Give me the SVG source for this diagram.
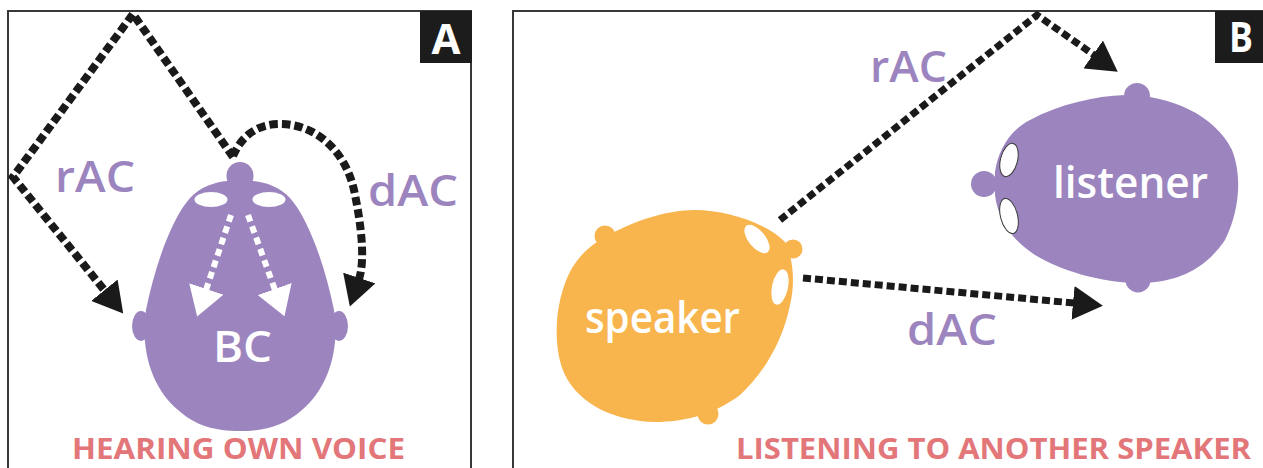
<svg xmlns="http://www.w3.org/2000/svg" width="1263" height="468" viewBox="0 0 1263 468">
  <style>
    .frame { fill: none; stroke: #383838; stroke-width: 2; }
    .tag { fill: #1c1c1c; }
    .tagtxt { fill: #ffffff; font-family: "Open Sans", "Liberation Sans", sans-serif; font-weight: 700; font-size: 42px; text-anchor: middle; }
    .lbl { fill: #9c85bf; font-family: "Open Sans", "Liberation Sans", sans-serif; font-weight: 600; font-size: 44px; }
    .inlbl { fill: #ffffff; font-family: "Open Sans", "Liberation Sans", sans-serif; font-weight: 600; font-size: 44px; }
    .cap { fill: #e27679; font-family: "Open Sans", "Liberation Sans", sans-serif; font-weight: 700; font-size: 29px; }
    .purple { fill: #9c85bf; }
    .orange { fill: #f8b54e; }
    .eye { fill: #ffffff; }
    .eye-o { fill: #ffffff; stroke: #3a3a3a; stroke-width: 1; }
    .dash { fill: none; stroke: #1a1a1a; stroke-width: 8; stroke-dasharray: 8.5 4; marker-end: url(#headBlack); }
    .dashB { fill: none; stroke: #1a1a1a; stroke-width: 7; stroke-dasharray: 8 4; marker-end: url(#headBlack); }
    .wdash { fill: none; stroke: #ffffff; stroke-width: 6; stroke-dasharray: 7 5; marker-end: url(#headWhite); }
  </style>
  <defs>
    <marker id="headBlack" markerUnits="userSpaceOnUse" viewBox="0 0 30 34" refX="1" refY="17" markerWidth="30" markerHeight="34" orient="auto">
      <path d="M0,0 L30,17 L0,34 Z" fill="#1a1a1a"/>
    </marker>
    <marker id="headWhite" markerUnits="userSpaceOnUse" viewBox="0 0 29 36" refX="1" refY="18" markerWidth="29" markerHeight="36" orient="auto">
      <path d="M0,0 L29,18 L0,36 Z" fill="#ffffff"/>
    </marker>
  </defs>

  <rect width="1263" height="468" fill="#ffffff"/>

  <!-- panel frames and letters -->
  <g id="panel-a">
    <rect class="frame" x="8" y="11" width="463" height="470"/>
    <rect class="tag" x="420" y="11" width="52" height="52"/>
    <text class="tagtxt" x="446" y="54">A</text>
    <text class="cap" x="72" y="459" textLength="333" lengthAdjust="spacingAndGlyphs">HEARING OWN VOICE</text>
  </g>
  <g id="panel-b">
    <rect class="frame" x="513" y="11" width="760" height="470"/>
    <rect class="tag" x="1215" y="11" width="50" height="52"/>
    <text class="tagtxt" x="1241" y="52" textLength="24" lengthAdjust="spacingAndGlyphs">B</text>
    <text class="cap" x="736" y="459" textLength="515" lengthAdjust="spacingAndGlyphs">LISTENING TO ANOTHER SPEAKER</text>
  </g>

  <!-- own head, seen from above -->
  <g id="head-own">
    <ellipse class="purple" cx="240" cy="176" rx="13.5" ry="14"/>
    <ellipse class="purple" cx="141" cy="326" rx="9" ry="15"/>
    <ellipse class="purple" cx="339" cy="326" rx="9" ry="15"/>
    <path class="purple" d="M227 181 C215 182 200 187 190 198 C172 218 155 265 146 310 C140 350 152 388 178 410 C196 426 215 431 240 431 C265 431 284 426 302 410 C328 388 340 350 334 310 C325 265 308 218 290 198 C280 187 265 182 253 181 Z"/>
    <ellipse class="eye" cx="211" cy="199.5" rx="16.5" ry="7.5"/>
    <ellipse class="eye" cx="269" cy="199.5" rx="16.5" ry="7.5"/>
    <text class="inlbl" x="213" y="362" textLength="59" lengthAdjust="spacingAndGlyphs">BC</text>
  </g>

  <!-- speaker head -->
  <g id="speaker">
    <circle class="orange" cx="605" cy="236" r="10.5"/>
    <circle class="orange" cx="708" cy="414" r="10.5"/>
    <circle class="orange" cx="793" cy="249" r="9.5"/>
    <path class="orange" d="M600 240 C630 222 665 210 695 210 C725 210 765 222 785 242 C794 260 795 285 790 305 C783 340 765 372 740 395 C715 414 685 422 655 422 C615 421 580 405 565 375 C552 348 554 300 572 268 C580 255 590 246 600 240 Z"/>
    <ellipse class="eye" cx="757" cy="239" rx="8.5" ry="17" transform="rotate(-39 757 239)"/>
    <ellipse class="eye" cx="780" cy="287" rx="8" ry="18" transform="rotate(12 780 287)"/>
    <text class="inlbl" x="585" y="333" textLength="155" lengthAdjust="spacingAndGlyphs">speaker</text>
  </g>

  <!-- listener head -->
  <g id="listener">
    <circle class="purple" cx="984" cy="184" r="13"/>
    <circle class="purple" cx="1137" cy="96" r="13"/>
    <circle class="purple" cx="1138" cy="280" r="12.5"/>
    <path class="purple" d="M995 172 C998 150 1010 130 1030 120 C1060 104 1095 96 1125 95 C1170 95 1215 115 1232 150 C1242 175 1240 210 1225 240 C1205 270 1175 283 1140 283 C1100 283 1060 270 1035 255 C1012 240 998 220 995 195 Z"/>
    <ellipse class="eye-o" cx="1009" cy="160" rx="8.5" ry="17" transform="rotate(14 1009 160)"/>
    <ellipse class="eye-o" cx="1009" cy="216" rx="8.5" ry="18" transform="rotate(-14 1009 216)"/>
    <text class="inlbl" x="1053" y="198" textLength="155" lengthAdjust="spacingAndGlyphs">listener</text>
  </g>

  <!-- sound paths -->
  <g id="connectors">
    <path class="dash" d="M233 157 L133 14 L13 177 L105 291"/>
    <path class="dash" d="M233 156 C242 135 258 124 280 124 C315 124 345 150 354 190 C360 218 366 258 359 279"/>
    <path class="wdash" d="M231 215 L206 290"/>
    <path class="wdash" d="M248 215 L275 290"/>
    <path class="dashB" d="M780 220 L1037 15 L1094 55"/>
    <path class="dashB" d="M803 278 L1074 303"/>
  </g>

  <!-- path labels -->
  <g id="labels">
    <text class="lbl" x="55" y="192" textLength="80" lengthAdjust="spacingAndGlyphs">rAC</text>
    <text class="lbl" x="368" y="206" textLength="90" lengthAdjust="spacingAndGlyphs">dAC</text>
    <text class="lbl" x="870" y="82" textLength="77" lengthAdjust="spacingAndGlyphs">rAC</text>
    <text class="lbl" x="907" y="345" textLength="90" lengthAdjust="spacingAndGlyphs">dAC</text>
  </g>
</svg>
